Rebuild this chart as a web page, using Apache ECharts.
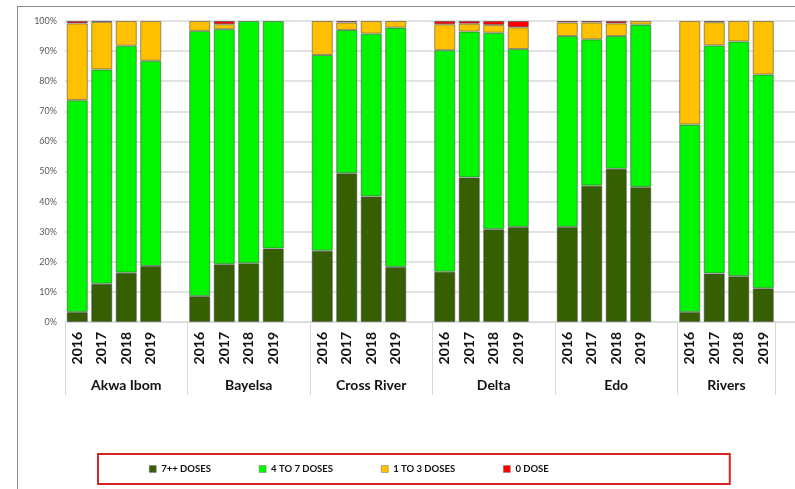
<!DOCTYPE html>
<html>
<head>
<meta charset="utf-8">
<script src="https://cdn.jsdelivr.net/npm/echarts@6/dist/echarts.min.js"></script>
<style>
  body { margin: 0; background: #fff; overflow: hidden; }
  #frame { position: absolute; left: 17px; top: 6px; width: 800px; height: 500px; border-left: 1px solid #8c8c8c; border-top: 1px solid #8c8c8c; }
  #chart { position: absolute; left: 0; top: 0; width: 800px; height: 489px; }
</style>
</head>
<body>
<div id="frame"></div>
<div id="chart"></div>
<script>
// 数据（每个州 2016-2019，百分比）
const states = ['Akwa Ibom', 'Bayelsa', 'Cross River', 'Delta', 'Edo', 'Rivers']
const years = ['2016', '2017', '2018', '2019']
const dose7Plus = [3.3, 12.7, 16.4, 18.6, 8.6, 19.2, 19.5, 24.4, 23.7, 49.4, 41.7, 18.3,
  16.7, 48.0, 30.8, 31.6, 31.6, 45.3, 50.9, 44.8, 3.3, 16.1, 15.2, 11.2]
const dose4to7 = [70.4, 71.2, 75.4, 68.2, 88.1, 78.1, 80.5, 75.6, 65.0, 47.6, 54.1, 79.5,
  73.6, 48.5, 65.3, 59.1, 63.4, 48.6, 44.1, 54.0, 62.3, 75.8, 78.0, 71.0]
const dose1to3 = [25.5, 15.8, 8.2, 13.2, 3.3, 1.6, 0, 0, 11.3, 2.5, 4.2, 2.2,
  8.6, 2.6, 2.6, 7.2, 4.5, 5.6, 4.2, 1.2, 34.4, 7.7, 6.8, 17.8]
const dose0 = [0.8, 0.3, 0, 0, 0, 1.1, 0, 0, 0, 0.5, 0, 0,
  1.1, 0.9, 1.3, 2.1, 0.5, 0.5, 0.8, 0, 0, 0.4, 0, 0]

// 每组后面留一个空位
const categories = []
function withGaps(arr) {
  const out = []
  states.forEach((s, i) => {
    years.forEach((y, j) => {
      const v = arr[i * 4 + j]
      out.push(v === 0 ? '-' : v)
    })
    out.push('-')
  })
  return out
}
states.forEach(() => {
  years.forEach(y => categories.push(y))
  categories.push('')
})

const groupCenters = [2.5, 7.5, 12.5, 17.5, 22.5, 27]
const groupEdges = [0, 5, 10, 15, 20, 25, 29]

const font = 'Lato, "Open Sans", sans-serif'
const border = { borderColor: 'rgba(70,70,70,0.55)', borderWidth: 1 }

function bar(name, arr, color) {
  return {
    name: name,
    type: 'bar',
    stack: 'total',
    barCategoryGap: '14%',
    itemStyle: Object.assign({ color: color }, border),
    data: withGaps(arr)
  }
}

const myChart = echarts.init(document.getElementById('chart'))
const option = {
  animation: false,
  grid: { left: 65, right: 0, top: 21, bottom: 167 },
  legend: {
    left: 98,
    top: 454,
    padding: [10, 181, 10, 51],
    borderColor: '#d42424',
    borderWidth: 2,
    itemGap: 48,
    itemWidth: 7,
    itemHeight: 7,
    icon: 'rect',
    itemStyle: { borderColor: '#777', borderWidth: 0.5 },
    textStyle: { fontFamily: font, fontWeight: 'bold', fontSize: 9.5, color: '#111' }
  },
  xAxis: [
    {
      type: 'category',
      data: categories,
      axisLine: { lineStyle: { color: '#d9d9d9', width: 1 } },
      axisTick: { length: 43, lineStyle: { color: '#d9d9d9' } },
      axisLabel: {
        interval: 0, rotate: 90, margin: 10,
        fontFamily: font, fontWeight: 'bold', fontSize: 14, color: '#111'
      }
    },
    {
      type: 'value',
      min: 0,
      max: 30,
      position: 'bottom',
      axisLine: { show: false },
      splitLine: { show: false },
      axisTick: { show: true, customValues: groupEdges, length: 73, lineStyle: { color: '#d9d9d9' } },
      axisLabel: {
        customValues: groupCenters,
        margin: 56,
        fontFamily: font, fontWeight: 'bold', fontSize: 14, color: '#111',
        formatter: v => states[groupCenters.indexOf(v)] || ''
      }
    }
  ],
  yAxis: {
    type: 'value',
    min: 0,
    max: 100,
    interval: 10,
    axisLine: { show: false },
    axisTick: { show: false },
    splitLine: { lineStyle: { color: '#d9d9d9', width: 1.5 } },
    axisLabel: { formatter: '{value}%', margin: 8, fontFamily: font, fontSize: 9, color: '#595959' }
  },
  series: [
    bar('7++ DOSES', dose7Plus, '#355f00'),
    bar('4 TO 7 DOSES', dose4to7, '#00f500'),
    bar('1 TO 3 DOSES', dose1to3, '#ffc000'),
    bar('0 DOSE', dose0, '#ff0000')
  ]
}
myChart.setOption(option)
</script>
</body>
</html>
